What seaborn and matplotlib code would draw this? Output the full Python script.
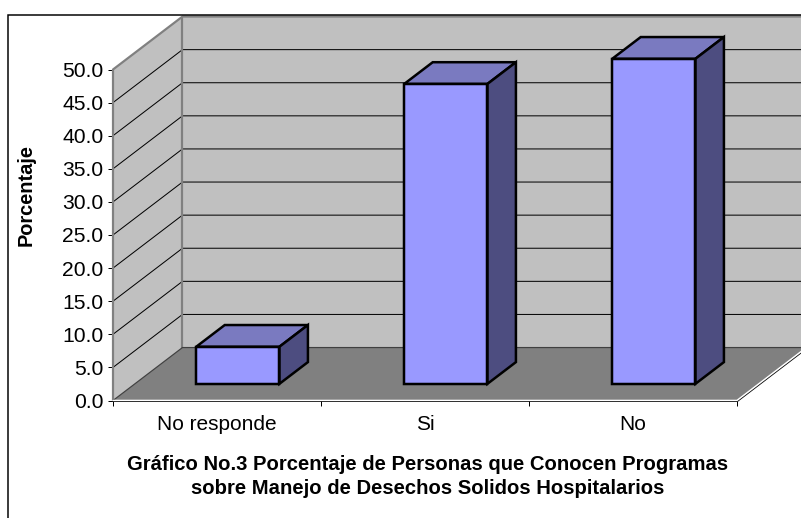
import matplotlib
matplotlib.use("Agg")
import matplotlib.pyplot as plt
from matplotlib.lines import Line2D
from matplotlib.patches import Polygon
import pandas as pd
import seaborn as sns

categories = ["No responde", "Si", "No"]
porcentaje = [5.6, 45.3, 49.1]
y_ticks = [0, 5, 10, 15, 20, 25, 30, 35, 40, 45, 50]
title_lines = ["Gráfico No.3 Porcentaje de Personas que Conocen Programas",
               "sobre Manejo de Desechos Solidos Hospitalarios"]
y_title = "Porcentaje"

WIDTH, HEIGHT = 801, 519
PX = 0.72  # one pixel in points at 100 dpi

# Oblique projection: moving through the full depth of the plot box
DEPTH_X = 0.334   # in category units
DEPTH_Y = 8.0     # in percentage units
BAR_FRONT = 0.30   # depth fraction of the bars' front plane
BAR_DEPTH = 0.41   # depth fraction taken up by a bar

WALL, FLOOR, WALL_EDGE = "#C0C0C0", "#808080", "#808080"
FACE_FRONT, FACE_TOP, FACE_SIDE = "#9999FF", "#7A7AC0", "#4D4D80"

sns.set_theme(style="white", rc={"font.family": ["Liberation Sans", "DejaVu Sans"]})
fig = plt.figure(figsize=(WIDTH / 100, HEIGHT / 100), dpi=100, facecolor="white")


def box(left, right, bottom, top):
    return [left / WIDTH, 1 - bottom / HEIGHT, (right - left) / WIDTH, (bottom - top) / HEIGHT]


# Outer frame of the chart area; its right and bottom sides fall outside the figure
fig.add_artist(Line2D([8 / WIDTH, 8 / WIDTH, 1.0], [1 - 518 / HEIGHT, 1 - 14.5 / HEIGHT, 1 - 14.5 / HEIGHT],
                      transform=fig.transFigure, color="black", lw=1.5 * PX,
                      solid_joinstyle="miter", solid_capstyle="butt", zorder=5))

ax = fig.add_axes(box(113, 737, 400.5, 69.5))
ax.set_facecolor("none")
ax.set_xlim(-0.5, 2.5)
ax.set_ylim(0, 50)
for s in ax.spines.values():
    s.set_visible(False)

x0, x1 = -0.5, 2.5
ymax = y_ticks[-1]
dx, dy = DEPTH_X, DEPTH_Y


def poly(points, **kw):
    ax.add_patch(Polygon(points, closed=True, clip_on=False, **kw))


# Back wall, side wall and floor
poly([(x0 + dx, dy), (x1 + dx, dy), (x1 + dx, ymax + dy), (x0 + dx, ymax + dy)],
     fc=WALL, ec="none", zorder=1)
poly([(x0, 0), (x0 + dx, dy), (x0 + dx, ymax + dy), (x0, ymax)],
     fc=WALL, ec="none", zorder=1)
poly([(x0, 0), (x1, 0), (x1 + dx, dy), (x0 + dx, dy)], fc=FLOOR, ec="none", zorder=1.5)

# Gridlines run along the side wall and across the back wall
for v in y_ticks[1:-1]:
    ax.plot([x0, x0 + dx, x1 + dx], [v, v + dy, v + dy], color="black", lw=1.0 * PX,
            clip_on=False, zorder=1.2, solid_joinstyle="miter")

# Wall outlines
edge = dict(color=WALL_EDGE, lw=2.2 * PX, clip_on=False, zorder=1.3, solid_capstyle="butt")
ax.plot([x0, x0, x0 + dx, x1 + dx], [0, ymax, ymax + dy, ymax + dy], **edge)
ax.plot([x0 + dx, x0 + dx], [dy, ymax + dy], **edge)
ax.plot([x0, x0 + dx, x1 + dx], [0, dy, dy], color="#404040", lw=1.2 * PX, clip_on=False, zorder=1.6)

# Front and right rim of the floor
ax.plot([x0, x1, x1 + dx], [0, 0, dy], color="white", lw=1.6 * PX, clip_on=False, zorder=1.7)
ax.plot([x0, x1], [-0.12, -0.12], color="black", lw=0.8 * PX, clip_on=False, zorder=1.8)
ax.plot([x1 + 0.004, x1 + dx + 0.004], [-0.12, dy - 0.12], color="black", lw=0.8 * PX,
        clip_on=False, zorder=1.8)

# Axis ticks and labels on the front plane
ax.set_yticks(y_ticks, [f"{v:.1f}" for v in y_ticks])
ax.set_xticks(range(len(categories)), categories)
ax.set_xticks([-0.5, 0.5, 1.5, 2.5], minor=True)
ax.tick_params(axis="y", left=True, length=5 * PX, width=1 * PX, color="black",
               labelsize=15.2, pad=4.5 * PX, labelcolor="black")
ax.tick_params(axis="x", which="major", bottom=False, labelsize=15, pad=6.5 * PX, labelcolor="black")
ax.tick_params(axis="x", which="minor", bottom=True, length=5 * PX, width=1 * PX, color="black")

ax.set_ylabel(y_title, fontsize=14.4, fontweight="bold", color="black")
ax.yaxis.set_label_coords((36 - 113) / 624, (400.5 - 195) / 331)

for line, yc in zip(title_lines, (464, 489)):
    fig.text(427.5 / WIDTH, 1 - yc / HEIGHT, line, ha="center", va="center",
             fontsize=14.55, fontweight="bold", color="black")

# The bars live on their own transparent plane, shifted into the box
front_dx = BAR_FRONT * dx * 208
front_dy = BAR_FRONT * dy * 6.62 + 0.8
ax_bars = fig.add_axes(box(113 + front_dx, 737 + front_dx, 400.5 - front_dy, 69.5 - front_dy))
data = pd.DataFrame({"categoria": categories, "porcentaje": porcentaje})
sns.barplot(data=data, x="categoria", y="porcentaje", ax=ax_bars, color=FACE_FRONT, saturation=1,
            width=0.4, edgecolor="black", linewidth=2.5 * PX, zorder=3, clip_on=False)
ax_bars.set_xlim(-0.5, 2.5)
ax_bars.set_ylim(0, 50)
ax_bars.axis("off")
ax_bars.patch.set_visible(False)

bdx, bdy = BAR_DEPTH * dx, BAR_DEPTH * dy
for bar in list(ax_bars.patches):
    bar.set_joinstyle("miter")
    left, w, h = bar.get_x(), bar.get_width(), bar.get_height()
    right = left + w
    outline = dict(ec="black", lw=2.5 * PX, joinstyle="miter", clip_on=False, zorder=2.5)
    ax_bars.add_patch(Polygon([(left, h), (right, h), (right + bdx, h + bdy), (left + bdx, h + bdy)],
                              closed=True, fc=FACE_TOP, **outline))
    ax_bars.add_patch(Polygon([(right, 0), (right + bdx, bdy), (right + bdx, h + bdy), (right, h)],
                              closed=True, fc=FACE_SIDE, **outline))

fig.savefig("out.png", dpi=100, facecolor="white")
